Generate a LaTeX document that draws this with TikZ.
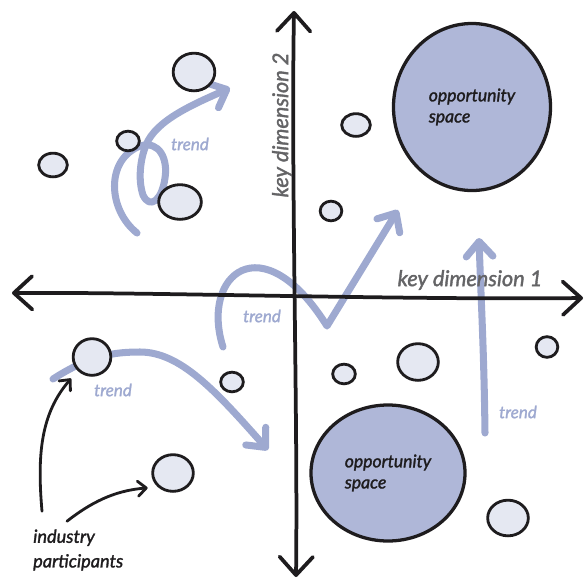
\documentclass[tikz,border=0pt]{standalone}
\usepackage{fontspec}
\setmainfont{Lato}[ItalicFeatures={FakeBold=1.6}]
\usepackage{tikz}
\usetikzlibrary{arrows.meta,shapes.geometric}
\usepackage{xcolor}
\definecolor{trendblue}{RGB}{158,169,208}
\definecolor{spaceblue}{RGB}{175,183,216}
\definecolor{memberfill}{RGB}{229,232,242}
\definecolor{inkblack}{RGB}{30,28,30}
\definecolor{labelgrey}{RGB}{100,100,102}

\begin{document}
\begin{tikzpicture}[x=0.3mm, y=-0.3mm,
    axisline/.style={line width=3.2pt, inkblack, line cap=round,
      >={Straight Barb[round,length=5.5mm,width=10mm]}, <->},
    trendline/.style={line width=6pt, trendblue, line cap=round, line join=round,
      >={Straight Barb[round,length=4.5mm,width=8mm]}},
    member/.style={ellipse, draw=inkblack, fill=memberfill, line width=2.4pt, inner sep=0pt},
    oppspace/.style={ellipse, draw=inkblack, fill=spaceblue, line width=2.8pt, inner sep=0pt,
      align=left, font=\itshape\fontsize{15}{18}\selectfont, text=inkblack},
    axislabel/.style={labelgrey, font=\itshape\fontsize{18.5}{22}\selectfont},
    trendlabel/.style={trendblue, font=\itshape\fontsize{14.5}{17}\selectfont},
    pointer/.style={line width=2.4pt, inkblack, line cap=round,
      -{Straight Barb[round,length=2.5mm,width=4.5mm]}}]
  \useasboundingbox (0,0) rectangle (586,581);
  % Trends (drawn first, everything else sits on top)
  \draw[trendline,->] (137,233) .. controls (108,210) and (105,160) .. (140,146)
    .. controls (160,140) and (168,160) .. (165,178)
    .. controls (162,200) and (150,210) .. (143,195)
    .. controls (138,180) and (140,160) .. (146,145)
    .. controls (156,120) and (194,104) .. (230,88);
  \draw[trendline,->] (223,347) .. controls (200,275) and (262,222) .. (327,326) -- (398,210);
  \draw[trendline,->] (53,379) .. controls (90,355) and (115,352) .. (140,352)
    .. controls (180,352) and (215,390) .. (268,450);
  \draw[trendline,->] (485,433) .. controls (484,350) and (481,300) .. (479,238);
  % Opportunity spaces
  \node[oppspace, minimum width=47.1mm, minimum height=50.1mm] (opptop) at (472,107) {opportunity\\space};
  \node[oppspace, minimum width=46.2mm, minimum height=40.8mm] (oppbot) at (388,473) {opportunity\\space};
  % Industry participants
  \foreach \nm/\cx/\cy/\dw/\dh in {p1/194/72/12.5/11.3, p2/128/141/6.8/5.9, p3/53/165/8.6/7.1,
      p4/180/202/12.8/10.4, p5/356/125/8.6/6.8, p6/331/211/6.5/5.9, p7/92/357/11.3/11,
      p8/232/382/6.8/5.9, p9/173/473/12.2/11, p10/344/374/6.8/5.9, p11/418/362/12.2/11,
      p12/547/347/6.5/6.2, p13/508/518/12.2/10.7}
    \node[member, minimum width=\dw mm, minimum height=\dh mm] (\nm) at (\cx,\cy) {};
  % Axes
  \coordinate (ytop) at (294,11);
  \coordinate (ybot) at (296,577);
  \coordinate (xleft) at (12,293);
  \coordinate (xright) at (583,298);
  \draw[axisline] (ybot) .. controls (298,420) and (291,180) .. (ytop);
  \draw[axisline] (xleft) .. controls (150,292) and (400,300) .. (xright);
  \node[axislabel, rotate=90] (dim2) at (282,125) {key dimension 2};
  \node[axislabel] (dim1) at (470,280) {key dimension 1};
  % Trend labels
  \node[trendlabel] (t1) at (190,144) {trend};
  \node[trendlabel] (t2) at (262,316) {trend};
  \node[trendlabel] (t3) at (113,390) {trend};
  \node[trendlabel] (t4) at (518,412) {trend};
  % Caption and pointers
  \node[anchor=west, inner sep=0pt, align=left, text=inkblack,
    font=\itshape\fontsize{15.5}{21}\selectfont] (ip) at (33,550) {industry\\participants};
  \draw[pointer, shorten >=3mm] ([shift={(9,-18)}]ip.north west) to[out=95,in=229] (p7.south west);
  \draw[pointer, shorten >=3mm] ([shift={(34,-8)}]ip.north west) to[out=38,in=185] (p9.south west);
\end{tikzpicture}
\end{document}
